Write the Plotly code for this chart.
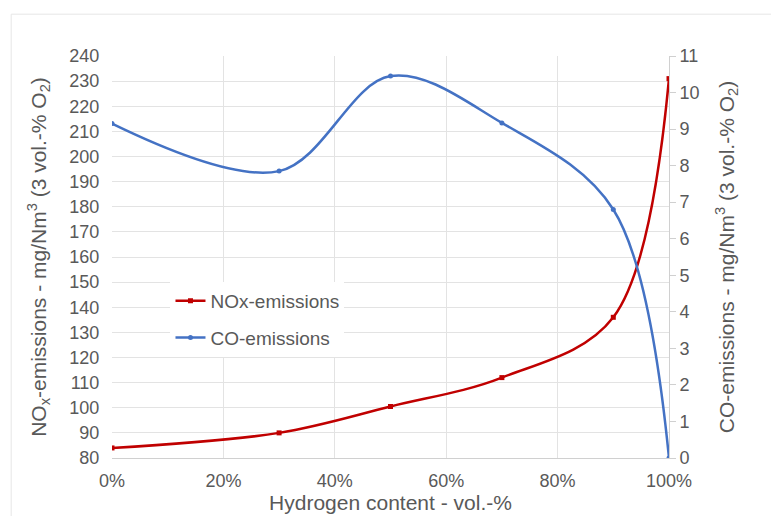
import plotly.graph_objects as go

h2_content = [0, 30, 50, 70, 90, 100]
nox = [84, 90, 100.5, 112, 136, 231]
co = [9.15, 7.85, 10.45, 9.17, 6.8, 0.0]

x_ticks = [0, 20, 40, 60, 80, 100]
x_labels = ["0%", "20%", "40%", "60%", "80%", "100%"]

red = "#C00000"
blue = "#4472C4"
gray_text = "#595959"
font = "Liberation Sans, Arial, sans-serif"

fig = go.Figure()
fig.add_trace(go.Scatter(
    x=h2_content, y=nox, name="NOx-emissions", mode="lines+markers",
    line=dict(color=red, width=2.5, shape="spline", smoothing=1.0),
    marker=dict(symbol="square", size=5, color=red),
    legendgroup="a",
))
fig.add_trace(go.Scatter(
    x=h2_content, y=co, name="CO-emissions", mode="lines+markers",
    line=dict(color=blue, width=2.5, shape="spline", smoothing=1.0),
    marker=dict(symbol="circle", size=5, color=blue),
    yaxis="y2", legendgroup="b",
))

fig.update_layout(
    width=779, height=516,
    margin=dict(l=104, r=118, t=48, b=66),
    paper_bgcolor="white", plot_bgcolor="white",
    font=dict(family=font, size=18, color=gray_text),
    showlegend=True,
    legend=dict(x=0.105, y=0.438, xanchor="left", yanchor="top",
                bgcolor="white", font=dict(size=19, color=gray_text),
                traceorder="grouped", tracegroupgap=9, itemwidth=30),
    xaxis=dict(
        range=[0, 100], tickvals=x_ticks, ticktext=x_labels,
        showgrid=True, gridcolor="#E3E3E3", gridwidth=1,
        showline=True, linecolor="#D0D0D0", zeroline=False,
        ticks="outside", ticklen=6, tickcolor="rgba(0,0,0,0)",
        automargin=False,
        title=dict(text="Hydrogen content - vol.-%", standoff=4,
                   font=dict(size=21, color=gray_text)),
        tickfont=dict(size=18, color=gray_text),
    ),
    yaxis=dict(
        range=[80, 240], dtick=10, tick0=80,
        showgrid=True, gridcolor="#E3E3E3", gridwidth=1,
        showline=False, zeroline=False,
        ticks="outside", ticklen=8, tickcolor="rgba(0,0,0,0)",
        automargin=False,
        title=dict(text="NO<sub>x</sub>-emissions - mg/Nm<sup>3</sup> (3 vol.-% O<sub>2</sub>)",
                   standoff=17, font=dict(size=21, color=gray_text)),
        tickfont=dict(size=18, color=gray_text),
    ),
    yaxis2=dict(
        range=[0, 11], dtick=1, tick0=0, overlaying="y", side="right",
        showgrid=False, zeroline=False,
        showline=True, linecolor="#D0D0D0",
        ticks="outside", ticklen=6, tickcolor="#D0D0D0",
        automargin=False,
        title=dict(text="CO-emissions - mg/Nm<sup>3</sup> (3 vol.-% O<sub>2</sub>)",
                   standoff=20, font=dict(size=21, color=gray_text)),
        tickfont=dict(size=18, color=gray_text),
    ),
    shapes=[dict(type="rect", xref="paper", yref="paper",
                 x0=-0.181, x1=1.25, y0=-0.3, y1=1.104,
                 line=dict(color="#E6E6E6", width=1), layer="below")],
)

fig.write_html("out.html")
